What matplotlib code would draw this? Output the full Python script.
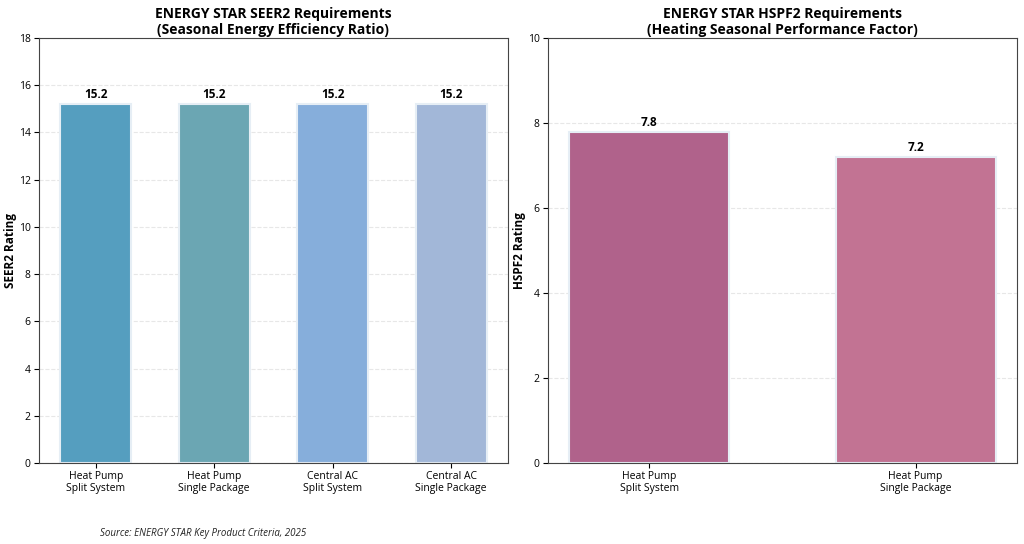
import matplotlib
matplotlib.use('Agg')
import matplotlib.pyplot as plt
import numpy as np

plt.rcParams['font.family'] = ['Open Sans', 'DejaVu Sans']

# Data
seer_categories = ['Heat Pump\nSplit System', 'Heat Pump\nSingle Package',
                   'Central AC\nSplit System', 'Central AC\nSingle Package']
seer_values = [15.2, 15.2, 15.2, 15.2]
hspf_categories = ['Heat Pump\nSplit System', 'Heat Pump\nSingle Package']
hspf_values = [7.8, 7.2]

SEER_COLORS = ['#559ebf', '#6ba6b3', '#86aedb', '#a2b7d8']
HSPF_COLORS = ['#b0628b', '#c27393']

fig, (ax1, ax2) = plt.subplots(1, 2, figsize=(10.24, 5.44), dpi=100)
fig.subplots_adjust(left=0.038, right=0.993, top=0.930, bottom=0.149, wspace=0.085)


def draw_panel(ax, cats, vals, colors, ylim, ylabel, title, offset):
    x = np.arange(len(cats))
    bars = ax.bar(x, vals, width=0.6, color=colors, edgecolor='#e6eef5', linewidth=1.5)
    for bar, val in zip(bars, vals):
        ax.text(bar.get_x() + bar.get_width() / 2, bar.get_height() + offset,
                f'{val:.1f}', ha='center', va='bottom', fontsize=8.5, fontweight='bold')
    ax.set_xticks(x)
    ax.set_xticklabels(cats, fontsize=7.5, linespacing=1.1)
    ax.set_ylim(*ylim)
    ax.set_ylabel(ylabel, fontsize=8.5, fontweight='bold')
    ax.yaxis.set_label_coords(-0.046, 0.5)
    ax.set_title(title, fontsize=10, fontweight='bold', pad=3)
    ax.tick_params(axis='y', labelsize=7.5, pad=2.5)
    ax.tick_params(axis='x', pad=2.5)
    ax.grid(True, axis='y', linestyle='--', alpha=0.3)
    ax.set_axisbelow(True)
    for s in ax.spines.values():
        s.set_color('#444444')


draw_panel(ax1, seer_categories, seer_values, SEER_COLORS, (0, 18), 'SEER2 Rating',
           'ENERGY STAR SEER2 Requirements\n(Seasonal Energy Efficiency Ratio)', 0.15)
draw_panel(ax2, hspf_categories, hspf_values, HSPF_COLORS, (0, 10), 'HSPF2 Rating',
           'ENERGY STAR HSPF2 Requirements\n(Heating Seasonal Performance Factor)', 0.06)

fig.text(0.098, 0.015, 'Source: ENERGY STAR Key Product Criteria, 2025',
         fontsize=7, style='italic', color='#222222')

plt.savefig('out.png', dpi=100)
plt.close()
